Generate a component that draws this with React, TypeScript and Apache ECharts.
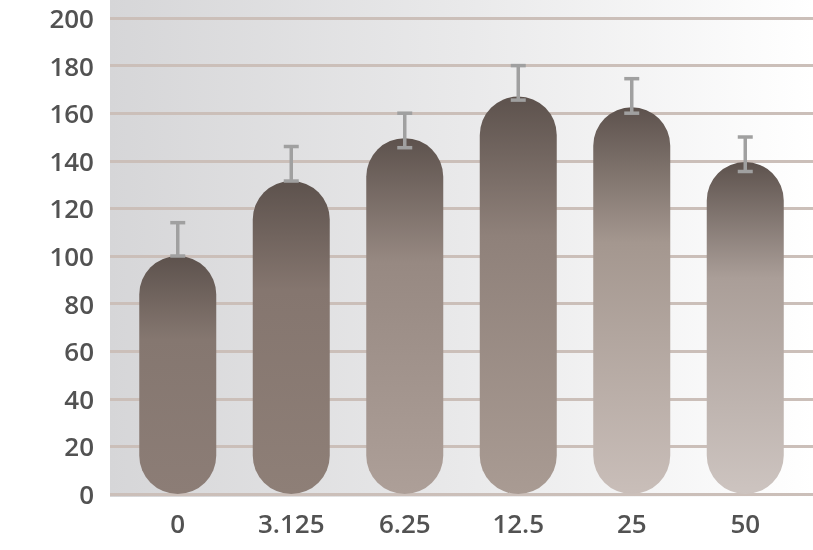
import React, { useEffect, useRef } from "react";
import * as echarts from "echarts";

const categories = ["0", "3.125", "6.25", "12.5", "25", "50"];
const barTops = [100, 131.5, 149.5, 167, 162.5, 139.5];
const errLow = [100, 131.5, 145.5, 165.5, 160, 135.5];
const errHigh = [114, 146, 160, 180, 174.5, 150];
const yTicks = { min: 0, max: 200, interval: 20 };

const bottomColors = ["#8c7d76", "#8e7f77", "#ad9f98", "#a99b93", "#c9beb9", "#cdc4c0"];
const midColors = ["#857770", "#85766f", "#978982", "#8f817a", "#a4978f", "#aa9e98"];

export default function App() {
  const ref = useRef<HTMLDivElement>(null);
  useEffect(() => {
    if (!ref.current) return;
    const chart = echarts.init(ref.current, undefined, { renderer: "svg" });
    const font = "'Open Sans', sans-serif";
    const option: any = {
      animation: false,
      graphic: [
        {
          type: "rect",
          z: -10,
          silent: true,
          shape: { x: 110, y: 0, width: 703, height: 497 },
          style: {
            fill: new echarts.graphic.LinearGradient(0, 0, 1, 0, [
              { offset: 0, color: "#d6d6d8" },
              { offset: 0.5, color: "#e9e9ea" },
              { offset: 1, color: "#ffffff" },
            ]),
          },
        },
      ],
      grid: [
        { left: 110, right: 0, top: 18, bottom: 56 },
        { left: 121, right: 11, top: 18, bottom: 56 },
      ],
      xAxis: [
        { type: "value", gridIndex: 0, show: false, min: 0, max: 1 },
        {
          type: "category",
          gridIndex: 1,
          data: categories,
          axisLine: { show: false },
          axisTick: { show: false },
          axisLabel: { color: "#525252", fontSize: 26, fontWeight: 600, fontFamily: font, margin: 16 },
        },
      ],
      yAxis: [
        {
          type: "value",
          gridIndex: 0,
          min: yTicks.min,
          max: yTicks.max,
          interval: yTicks.interval,
          axisLine: { show: false },
          axisTick: { show: false },
          axisLabel: { color: "#525252", fontSize: 26, fontWeight: 600, fontFamily: font, margin: 16 },
          splitLine: { show: true, lineStyle: { color: "#cbbfb9", width: 3 } },
        },
        {
          type: "value",
          gridIndex: 1,
          min: yTicks.min,
          max: yTicks.max,
          interval: yTicks.interval,
          show: false,
          splitLine: { show: false },
        },
      ],
      series: [
        {
          type: "bar",
          xAxisIndex: 1,
          yAxisIndex: 1,
          barWidth: 77,
          data: barTops.map((v, i) => ({
            value: v,
            itemStyle: {
              borderRadius: 38.5,
              color: new echarts.graphic.LinearGradient(0, 0, 0, 1, [
                { offset: 0, color: "#5d524d" },
                { offset: 0.35, color: midColors[i] },
                { offset: 1, color: bottomColors[i] },
              ]),
            },
          })),
        },
        {
          type: "custom",
          xAxisIndex: 1,
          yAxisIndex: 1,
          z: 5,
          data: categories.map((_, i) => [i, errLow[i], errHigh[i]]),
          renderItem: (params: any, api: any) => {
            const idx = api.value(0);
            const lo = api.coord([idx, api.value(1)]);
            const hi = api.coord([idx, api.value(2)]);
            const hw = 7.5;
            const style = { stroke: "#a0a0a0", lineWidth: 3.5 };
            return {
              type: "group",
              children: [
                { type: "line", shape: { x1: lo[0], y1: lo[1], x2: hi[0], y2: hi[1] }, style },
                { type: "line", shape: { x1: hi[0] - hw, y1: hi[1], x2: hi[0] + hw, y2: hi[1] }, style },
                { type: "line", shape: { x1: lo[0] - hw, y1: lo[1], x2: lo[0] + hw, y2: lo[1] }, style },
              ],
            };
          },
        },
      ],
    };
    chart.setOption(option);
    return () => chart.dispose();
  }, []);
  return <div ref={ref} style={{ position: "fixed", left: 0, top: 0, width: 813, height: 550 }} />;
}
